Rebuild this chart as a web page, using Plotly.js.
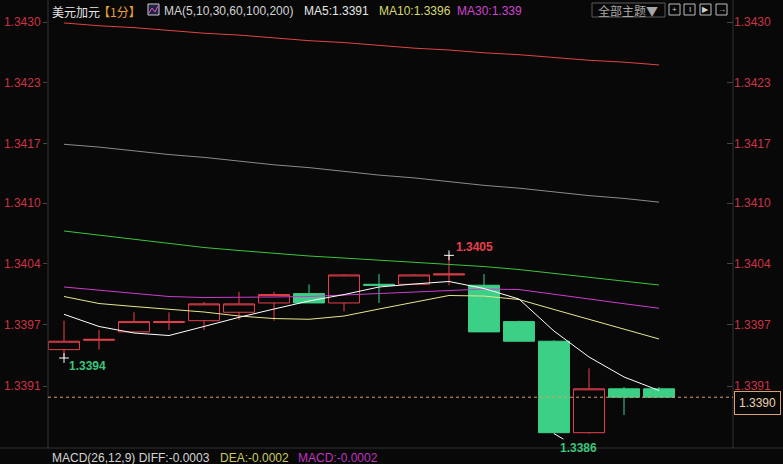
<!DOCTYPE html>
<html><head><meta charset="utf-8">
<script src="https://cdn.plot.ly/plotly-3.0.1.min.js"></script>
<style>html,body{margin:0;padding:0;background:#080808;}#chart{width:783px;height:464px;}</style>
</head><body><div id="chart"></div>
<script>
// ---- data ----
const idx    = [0,1,2,3,4,5,6,7,8,9,10,11,12,13,14,15,16,17];
const opens  = [1.33949,1.33959,1.33968,1.33978,1.33980,1.33989,1.33999,1.34009,1.33999,1.34019,1.34019,1.34029,1.34018,1.33979,1.33958,1.33860,1.33907,1.33907];
const highs  = [1.33980,1.33970,1.33989,1.33989,1.34000,1.34011,1.34011,1.34019,1.34030,1.34030,1.34030,1.34050,1.34030,1.33980,1.33959,1.33929,1.33909,1.33909];
const lows   = [1.33940,1.33949,1.33968,1.33970,1.33970,1.33981,1.33980,1.33999,1.33990,1.33999,1.34019,1.34018,1.33968,1.33958,1.33859,1.33859,1.33879,1.33898];
const closes = [1.33958,1.33960,1.33979,1.33979,1.33998,1.33998,1.34008,1.33999,1.34029,1.34018,1.34029,1.34030,1.33968,1.33958,1.33860,1.33907,1.33898,1.33898];

const ma5   = [1.339868,1.339738,1.339668,1.339641,1.339738,1.339836,1.339925,1.340011,1.340080,1.340161,1.340193,1.340220,1.340145,1.340032,1.339689,1.339411,1.339197,1.339052];
const ma10  = [1.340059,1.339984,1.339952,1.339925,1.339893,1.339850,1.339823,1.339815,1.339850,1.339925,1.340000,1.340070,1.340064,1.340027,1.339920,1.339813,1.339705,1.339604];
const ma30  = [1.340161,1.340129,1.340096,1.340059,1.340048,1.340048,1.340054,1.340059,1.340075,1.340096,1.340113,1.340129,1.340139,1.340134,1.340086,1.340032,1.339982,1.339933];
const ma60  = [1.340761,1.340718,1.340670,1.340624,1.340584,1.340552,1.340520,1.340493,1.340471,1.340450,1.340429,1.340407,1.340380,1.340348,1.340305,1.340263,1.340220,1.340182];
const ma100 = [1.34169,1.34166,1.34162,1.34158,1.34155,1.34151,1.34147,1.34144,1.34140,1.34136,1.34133,1.34129,1.34125,1.34122,1.34118,1.34114,1.34111,1.34107];
const ma200 = [1.34299,1.34296,1.34294,1.34291,1.34288,1.34286,1.34283,1.34280,1.34278,1.34275,1.34272,1.34270,1.34267,1.34265,1.34262,1.34259,1.34257,1.34254];

const tickVals  = [1.34300,1.34235,1.34170,1.34106,1.34041,1.33976,1.33910];
const tickTexts = ['1.3430','1.3423','1.3417','1.3410','1.3404','1.3397','1.3391'];

const title      = '美元加元';
const period     = '【1分】';
const maSpec     = 'MA(5,10,30,60,100,200)';
const maLabels   = ['MA5:1.3391','MA10:1.3396','MA30:1.339'];
const macdLabels = ['MACD(26,12,9) DIFF:-0.0003','DEA:-0.0002','MACD:-0.0002'];
const lastLabel  = '1.3390';
const hiLabel    = '1.3405';
const loLabel1   = '1.3394';
const loLabel2   = '1.3386';
const themeLabel = '全部主题▼';

// ---- layout helpers ----
const W = 783, H = 464, ML = 48, MR = 50, MT = 18, MB = 16;
const PW = W - ML - MR, PH = H - MT - MB;
const px = x => (x - ML) / PW;
const py = y => (H - MB - y) / PH;

const BG = '#080808';
const RED = '#e8404c', GREEN = '#3ccf86';
const FONT = 'Liberation Sans, Arial, sans-serif';
const CJK = 'Noto Sans CJK SC, sans-serif';
const yRange = [1.338436, 1.343043];
const xRange = [-0.457, 19.114];

const maDefs = [
  {y: ma200, c: '#e04444'},
  {y: ma100, c: '#8a8a8a'},
  {y: ma60,  c: '#3cc43c'},
  {y: ma30,  c: '#cc3ccc'},
  {y: ma10,  c: '#e6e68c'},
  {y: ma5,   c: '#ffffff'}
];

const traces = [{
  type: 'candlestick', x: idx, open: opens, high: highs, low: lows, close: closes,
  increasing: {line: {color: RED, width: 1}, fillcolor: BG},
  decreasing: {line: {color: GREEN, width: 1}, fillcolor: GREEN},
  whiskerwidth: 0, hoverinfo: 'skip', showlegend: false
}];
maDefs.forEach(d => traces.push({
  type: 'scatter', mode: 'lines', x: idx, y: d.y,
  line: {color: d.c, width: 1}, hoverinfo: 'skip', showlegend: false
}));
traces.push({
  type: 'scatter', mode: 'markers', x: [idx[0], idx[11]], y: [lows[0], highs[11]],
  marker: {symbol: 'cross-thin', size: 7, line: {color: '#ffffff', width: 1}},
  hoverinfo: 'skip', showlegend: false
});
traces.push({type: 'scatter', mode: 'lines', x: idx, y: closes, yaxis: 'y2',
  opacity: 0, hoverinfo: 'skip', showlegend: false});

const txt = (x, y, text, color, family, size) => ({
  xref: 'paper', yref: 'paper', x: px(x), y: py(y), xanchor: 'left', yanchor: 'middle',
  text: text, showarrow: false, font: {color: color, family: family || FONT, size: size || 12}
});

const annotations = [
  txt(50, 11, title, '#e6e6e6', CJK),
  txt(96, 11, period, '#e8a030', CJK),
  txt(162, 11, maSpec, '#d4d4d4'),
  txt(302, 11, maLabels[0], '#e6e6e6'),
  txt(377, 11, maLabels[1], '#d8d870'),
  txt(455, 11, maLabels[2], '#d044d0'),
  txt(50, 458, macdLabels[0], '#d4d4d4'),
  txt(218, 458, macdLabels[1], '#c8c860'),
  txt(296, 458, macdLabels[2], '#c034c0'),
  {xref: 'paper', yref: 'paper', x: px(628), y: py(10), xanchor: 'center', yanchor: 'middle',
   text: themeLabel, showarrow: false, font: {color: '#a8a8a8', family: CJK, size: 12}},
  {xref: 'paper', yref: 'y', x: 1, y: closes[17], xanchor: 'left', yanchor: 'middle', xshift: 1, yshift: -6,
   text: lastLabel, showarrow: false, font: {color: '#e8d0b0', family: FONT, size: 12},
   bordercolor: '#d9a070', borderwidth: 1, borderpad: 4, bgcolor: BG},
  {x: idx[11], y: highs[11], xanchor: 'left', yanchor: 'middle', xshift: 5, yshift: 8,
   text: '<b>' + hiLabel + '</b>', showarrow: false, font: {color: '#e8404c', family: FONT, size: 12}},
  {x: idx[0], y: lows[0], xanchor: 'left', yanchor: 'middle', xshift: 3, yshift: -8,
   text: '<b>' + loLabel1 + '</b>', showarrow: false, font: {color: '#3cc47c', family: FONT, size: 12}},
  {x: idx[14], y: lows[14], text: '<b>' + loLabel2 + '</b>', showarrow: true, arrowhead: 0,
   arrowwidth: 1, arrowcolor: '#ffffff', ax: 24, ay: 14, font: {color: '#3cc47c', family: FONT, size: 12}}
];
const iconGlyphs = ['+', 'I', '▶', '→'];
const iconX = [669, 684, 700, 716];
iconX.forEach((x, i) => annotations.push({xref: 'paper', yref: 'paper', x: px(x + 5.5), y: py(9.5),
  xanchor: 'center', yanchor: 'middle', text: iconGlyphs[i], showarrow: false,
  font: {color: '#d0d0d0', family: FONT, size: 8}}));

const line = (x0, y0, x1, y1, color, dash) => ({type: 'line', xref: 'paper', yref: 'paper',
  x0: px(x0), y0: py(y0), x1: px(x1), y1: py(y1), line: {color: color, width: 1, dash: dash || 'solid'}});
const shapes = [
  line(48, 0, 48, 448, '#333333'),
  line(733, 0, 733, 448, '#333333'),
  line(0, 448, 783, 448, '#333333'),
  {type: 'line', xref: 'paper', yref: 'y', x0: 0, x1: 1, y0: closes[17], y1: closes[17],
   line: {color: '#d9a070', width: 1, dash: '3px,3px'}},
  {type: 'rect', xref: 'paper', yref: 'paper', x0: px(592), x1: px(665), y0: py(3), y1: py(17),
   line: {color: '#5a5a5a', width: 1}},
  {type: 'rect', xref: 'paper', yref: 'paper', x0: px(148), x1: px(159), y0: py(4), y1: py(15),
   line: {color: '#cccccc', width: 1}, fillcolor: '#222244'},
  {type: 'path', xref: 'paper', yref: 'paper',
   path: `M ${px(149)} ${py(13)} L ${px(152)} ${py(8)} L ${px(155)} ${py(12)} L ${px(158)} ${py(6)}`,
   line: {color: '#e050c0', width: 1}}
];
iconX.forEach(x => shapes.push({type: 'rect', xref: 'paper', yref: 'paper',
  x0: px(x), x1: px(x + 11), y0: py(4), y1: py(15), line: {color: '#bbbbbb', width: 1}}));

const yCommon = {range: yRange, tickvals: tickVals, ticktext: tickTexts,
  tickfont: {color: '#cc3344', family: FONT, size: 12}, showgrid: false, zeroline: false,
  showline: false, tickcolor: '#444444', ticklen: 4, fixedrange: true};

const layout = {
  width: W, height: H, paper_bgcolor: BG, plot_bgcolor: BG,
  margin: {l: ML, r: MR, t: MT, b: MB, pad: 0},
  showlegend: false, hovermode: false, boxgap: 0.06, boxgroupgap: 0.06,
  xaxis: {range: xRange, showgrid: false, zeroline: false, showticklabels: false, showline: false,
    ticks: '', rangeslider: {visible: false}, fixedrange: true},
  yaxis: Object.assign({}, yCommon, {side: 'left', ticks: 'outside'}),
  yaxis2: Object.assign({}, yCommon, {side: 'right', overlaying: 'y', ticks: 'inside', ticklen: 6}),
  annotations: annotations, shapes: shapes
};
Plotly.newPlot('chart', traces, layout, {displayModeBar: false, staticPlot: true});
</script></body></html>
